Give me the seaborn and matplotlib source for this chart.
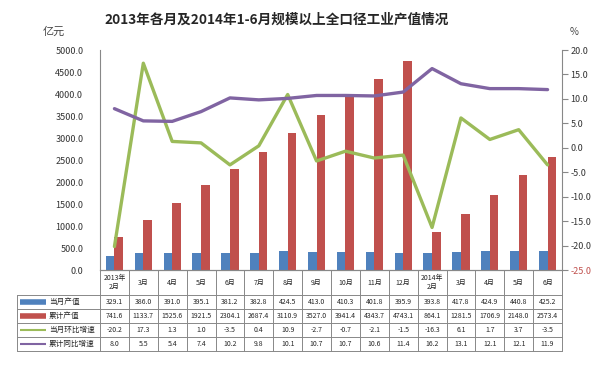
import numpy as np
import pandas as pd
import matplotlib
matplotlib.use("Agg")
import matplotlib.pyplot as plt
import seaborn as sns

# data
months = ["2013年\n2月", "3月", "4月", "5月", "6月", "7月", "8月", "9月", "10月",
          "11月", "12月", "2014年\n2月", "3月", "4月", "5月", "6月"]
month_output = [329.1, 386.0, 391.0, 395.1, 381.2, 382.8, 424.5, 413.0, 410.3,
                401.8, 395.9, 393.8, 417.8, 424.9, 440.8, 425.2]
cum_output = [741.6, 1133.7, 1525.6, 1921.5, 2304.1, 2687.4, 3110.9, 3527.0, 3941.4,
              4343.7, 4743.1, 864.1, 1281.5, 1706.9, 2148.0, 2573.4]
mom_growth = [-20.2, 17.3, 1.3, 1.0, -3.5, 0.4, 10.9, -2.7, -0.7,
              -2.1, -1.5, -16.3, 6.1, 1.7, 3.7, -3.5]
yoy_growth = [8.0, 5.5, 5.4, 7.4, 10.2, 9.8, 10.1, 10.7, 10.7,
              10.6, 11.4, 16.2, 13.1, 12.1, 12.1, 11.9]
series_names = ["当月产值", "累计产值", "当月环比增速", "累计同比增速"]
colors = ["#4F81BD", "#C0504D", "#9BBB59", "#8064A2"]

sns.set_style("white")
plt.rcParams['font.family'] = ['Noto Sans CJK SC', 'DejaVu Sans']

W, H = 603, 366
fig = plt.figure(figsize=(W / 100, H / 100), dpi=100)
ax = fig.add_axes([100 / W, 1 - 270 / H, 462 / W, 220 / H])

n = len(months)
xs = np.arange(n)
bars = pd.DataFrame({
    "x": np.tile(xs, 2),
    "value": month_output + cum_output,
    "series": [series_names[0]] * n + [series_names[1]] * n,
})
sns.barplot(data=bars, x="x", y="value", hue="series", palette=colors[:2],
            width=0.6, ax=ax, legend=False, saturation=1, linewidth=0)
ax.set_ylim(0, 5000)
ax.set_xlim(-0.5, n - 0.5)
ax.set_yticks(np.arange(0, 5001, 500))
ax.set_yticklabels([f"{v:.1f}" for v in np.arange(0, 5001, 500)], fontsize=6.5, color="#333333")
ax.set_xticks([])
ax.set_xlabel("")
ax.set_ylabel("")
ax.tick_params(axis="y", length=0, pad=12)

ax2 = ax.twinx()
lines = pd.DataFrame({"x": np.tile(xs, 2), "value": mom_growth + yoy_growth,
                      "series": [series_names[2]] * n + [series_names[3]] * n})
sns.lineplot(data=lines, x="x", y="value", hue="series", palette=colors[2:],
             linewidth=2.4, ax=ax2, legend=False)
ax2.set_ylim(-25, 20)
ax2.set_xlim(-0.5, n - 0.5)
ticks2 = np.arange(-25, 21, 5)
ax2.set_yticks(ticks2)
ax2.set_yticklabels([f"{v:.1f}" for v in ticks2], fontsize=6.5, color="#333333")
ax2.get_yticklabels()[0].set_color("#C0504D")
ax2.tick_params(axis="y", length=4, width=0.8, color="#888888", direction="out", pad=2)
ax2.set_ylabel("")
ax2.set_xlabel("")

for a in (ax, ax2):
    a.spines["top"].set_visible(False)
    for s in ("left", "right", "bottom"):
        a.spines[s].set_color("#888888")
        a.spines[s].set_linewidth(0.8)
ax.spines["right"].set_visible(False)
ax2.spines["left"].set_visible(False)

# title and unit labels
fig.text(277 / W, 1 - 20 / H, "2013年各月及2014年1-6月规模以上全口径工业产值情况",
         ha="center", va="center", fontsize=9.8, fontweight="bold")
fig.text(54 / W, 1 - 32 / H, "亿元", ha="center", va="center", fontsize=8, color="#444444")
fig.text(574 / W, 1 - 32 / H, "%", ha="center", va="center", fontsize=7, color="#444444")

# data table under the plot
tr = ax.get_xaxis_transform()
px = 1 / 220.0
gc = "#888888"
head_h = 25
row_h = 14
y_rows = [-(head_h + i * row_h) * px for i in range(5)]
left_x = -0.5 - (100 - 17) / (462 / n)
edges = np.arange(n + 1) - 0.5
for e in edges:
    ax.plot([e, e], [0, y_rows[-1]], transform=tr, clip_on=False, color=gc, lw=0.7)
ax.plot([left_x, left_x], [y_rows[0], y_rows[-1]], transform=tr, clip_on=False, color=gc, lw=0.7)
for y in y_rows:
    ax.plot([left_x, n - 0.5], [y, y], transform=tr, clip_on=False, color=gc, lw=0.7)
for i, m in enumerate(months):
    ax.text(i, -head_h / 2 * px, m, transform=tr, ha="center", va="center",
            fontsize=5, linespacing=1.3)
table_vals = [month_output, cum_output, mom_growth, yoy_growth]
cw = 462 / n
for r, (name, vals, c) in enumerate(zip(series_names, table_vals, colors)):
    yc = (y_rows[r] + y_rows[r + 1]) / 2
    x0 = left_x + 3 / cw
    lw = 4 if r < 2 else 1.5
    ax.plot([x0, x0 + 26 / cw], [yc, yc], transform=tr, clip_on=False, color=c, lw=lw,
            solid_capstyle="butt")
    ax.text(x0 + 29 / cw, yc, name, transform=tr, ha="left", va="center", fontsize=5.5)
    for i, v in enumerate(vals):
        ax.text(i, yc, f"{v:.1f}", transform=tr, ha="center", va="center", fontsize=5)

fig.savefig("out.png", dpi=100)
